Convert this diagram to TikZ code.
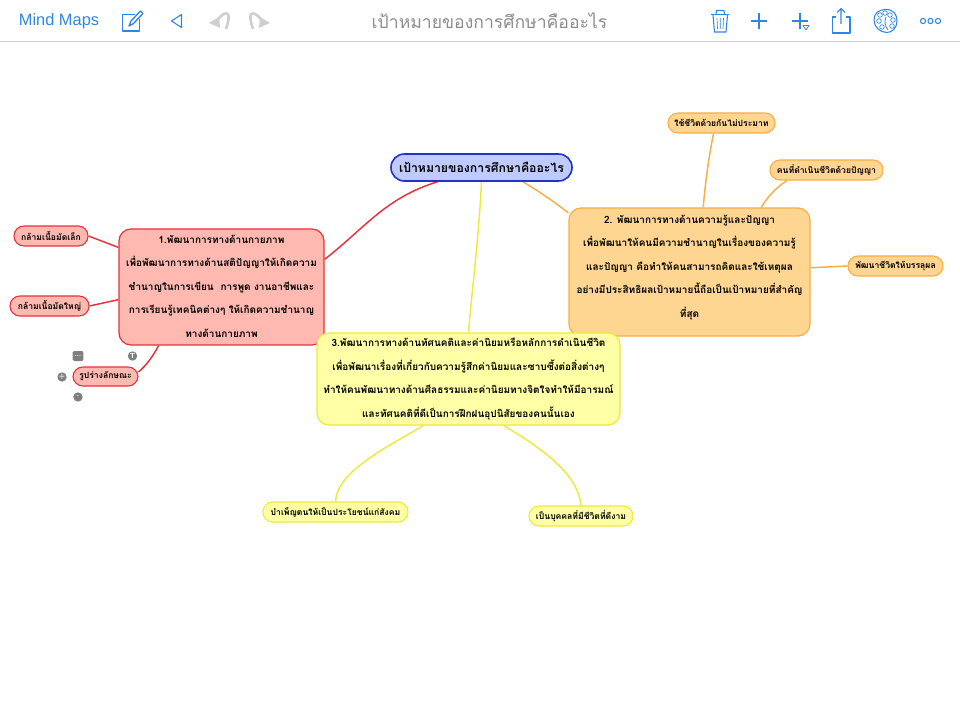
\documentclass[tikz,border=0pt]{standalone}
\usepackage{fontspec}
\usetikzlibrary{backgrounds}
\setmainfont{Liberation Sans}
\newfontfamily\thaifont[Script=Thai]{Loma}
\definecolor{uiblue}{HTML}{2F86E0}
\definecolor{uigray}{HTML}{CFCFCF}
\definecolor{titlegray}{HTML}{8C8C8C}
\definecolor{redfill}{HTML}{FFB9B0}
\definecolor{redline}{HTML}{E8303C}
\definecolor{orangefill}{HTML}{FFD592}
\definecolor{orangeline}{HTML}{F6AE45}
\definecolor{yellowfill}{HTML}{FFFFA6}
\definecolor{yellowline}{HTML}{EDE93A}
\definecolor{bluefill}{HTML}{BFCBFF}
\definecolor{blueline}{HTML}{2233CC}
\definecolor{handlegray}{HTML}{7F7F7F}
\tikzset{
  boxsize/.style 2 args={minimum width=#1*0.75pt,minimum height=#2*0.75pt},
  basebox/.style={draw,inner sep=0pt,align=center,text=black,font=\thaifont\bfseries\fontsize{7.5}{17.6pt}\selectfont},
  leafbox/.style={draw,inner sep=0pt,align=center,text=black,rounded corners=7.4pt,line width=0.8pt,font=\thaifont\bfseries\fontsize{6.45}{8pt}\selectfont},
  redbox/.style={basebox,fill=redfill,draw=redline,rounded corners=9pt,line width=0.9pt},
  orangebox/.style={basebox,fill=orangefill,draw=orangeline,rounded corners=9pt,line width=0.9pt},
  yellowbox/.style={basebox,fill=yellowfill,draw=yellowline,rounded corners=9pt,line width=0.9pt},
  redleaf/.style={leafbox,fill=redfill,draw=redline},
  orangeleaf/.style={leafbox,fill=orangefill,draw=orangeline},
  yellowleaf/.style={leafbox,fill=yellowfill,draw=yellowline},
  rootbox/.style={draw=blueline,fill=bluefill,line width=1.2pt,rounded corners=10pt,inner sep=0pt,align=center,font=\thaifont\bfseries\fontsize{9.2}{11pt}\selectfont},
  redlink/.style={draw=redline,line width=1.1pt},
  orangelink/.style={draw=orangeline,line width=1.1pt},
  yellowlink/.style={draw=yellowline,line width=1.1pt},
  uiicon/.style={draw=uiblue,line width=0.8pt,line join=round},
  handle/.style={circle,fill=handlegray,inner sep=0pt,minimum size=7pt,text=white,font=\sffamily\bfseries\fontsize{5.5}{6}\selectfont}
}
\begin{document}
\begin{tikzpicture}[x=0.75pt,y=-0.75pt]
\useasboundingbox (0,0) rectangle (960,720);
% top bar
\draw[uigray,line width=0.7pt] (0,41.5) -- (960,41.5);
\node[text=uiblue,font=\fontsize{12.3}{14}\selectfont,inner sep=0pt] (backlabel) at (59,21) {Mind Maps};
\node[text=titlegray,font=\thaifont\fontsize{13.2}{15}\selectfont,inner sep=0pt] (titlelabel) at (489.5,21) {เป้าหมายของการศึกษาคืออะไร};
% compose
\draw[uiicon] (135,14.5) -- (122.5,14.5) -- (122.5,31) -- (139.5,31) -- (139.5,19);
\draw[uiicon,line width=1pt] (129,26) -- (131,21) -- (140.5,11) -- (143,13.5) -- (133.5,23.5) -- cycle;
% back triangle
\draw[uiicon] (181.5,14.5) -- (171.5,21) -- (181.5,27.5) -- cycle;
% undo / redo
\fill[uigray] (209,23) -- (219,17) -- (220,28) -- cycle;
\draw[uigray,line width=2pt] (216,23) .. controls (220,14) and (230,9) .. (228.5,19) .. controls (228,23) and (227,26) .. (226,29);
\fill[uigray] (270,23) -- (260,17) -- (259,28) -- cycle;
\draw[uigray,line width=2pt] (263,23) .. controls (259,14) and (249,9) .. (250.5,19) .. controls (251,23) and (252,26) .. (253,29);
% trash
\draw[uiicon] (713,15) -- (714.5,32) -- (726,32) -- (727.5,15);
\draw[uiicon] (711,14.5) -- (729,14.5);
\draw[uiicon] (716,14.5) -- (716.5,10.5) -- (724,10.5) -- (724.5,14.5);
\draw[uiicon,line width=0.5pt] (717,18) -- (717.5,29) (720.2,18) -- (720.2,29) (723.5,18) -- (723,29);
% plus
\draw[uiicon,line width=1pt] (751,21) -- (767,21) (759,13) -- (759,29);
\draw[uiicon,line width=1pt] (792,21) -- (808,21) (800,13) -- (800,29);
\draw[uiicon,fill=white,line width=0.6pt] (803,25.5) -- (809,25.5) -- (806,30) -- cycle;
% share
\draw[uiicon] (836,17) -- (832.5,17) -- (832.5,33) -- (850,33) -- (850,17) -- (846,17);
\draw[uiicon] (841,24) -- (841,8.5) (837,12.5) -- (841,8.5) -- (845,12.5);
% palette
\draw[uiicon] (886,9.5) .. controls (894,9.5) and (897,15) .. (897,21) .. controls (897,28) and (892,32.5) .. (887,32.5) .. controls (880,32.5) and (874,27) .. (874,20) .. controls (874,13) and (879,9.5) .. (886,9.5);
\foreach \a/\b in {880/15,885/13,890/15,893/20,879/21,892/26,882/27}{\draw[uiicon,line width=0.5pt] (\a,\b) circle (2.3);}
\draw[uiicon,line width=0.6pt] (886,17) .. controls (884,22) and (885,26) .. (888,30);
% more
\foreach \a in {923,930.5,938}{\draw[uiicon] (\a,21) circle (2.6);}

% nodes
\node[rootbox,boxsize={181}{27}] (root) at (481.5,167.5) {เป้าหมายของการศึกษาคืออะไร};
\node[redbox,boxsize={205}{116}] (n1) at (221.5,287) {1.พัฒนาการทางด้านกายภาพ\\เพื่อพัฒนาการทางด้านสติปัญญาให้เกิดความ\\ชำนาญในการเขียน\ \ การพูด งานอาชีพและ\\การเรียนรู้เทคนิคต่างๆ ให้เกิดความชำนาญ\\ทางด้านกายภาพ\rule[-1.5pt]{0pt}{0pt}};
\node[orangebox,boxsize={241}{128}] (n2) at (689.5,272) {2. พัฒนาการทางด้านความรู้และปัญญา\\เพื่อพัฒนาให้คนมีความชำนาญในเรื่องของความรู้\\และปัญญา คือทำให้คนสามารถคิดและใช้เหตุผล\\อย่างมีประสิทธิผลเป้าหมายนี้ถือเป็นเป้าหมายที่สำคัญ\\ที่สุด\rule[-9pt]{0pt}{0pt}};
\node[yellowbox,boxsize={303}{92}] (n3) at (468.5,379) {3.พัฒนาการทางด้านทัศนคติและค่านิยมหรือหลักการดำเนินชีวิต\\เพื่อพัฒนาเรื่องที่เกี่ยวกับความรู้สึกค่านิยมและซาบซึ้งต่อสิ่งต่างๆ\\ทำให้คนพัฒนาทางด้านศีลธรรมและค่านิยมทางจิตใจทำให้มีอารมณ์\\และทัศนคติที่ดีเป็นการฝึกฝนอุปนิสัยของคนนั้นเอง};
\node[redleaf,boxsize={74}{20}] (l1) at (51,236) {กล้ามเนื้อมัดเล็ก};
\node[redleaf,boxsize={79}{20}] (l2) at (49.5,306) {กล้ามเนื้อมัดใหญ่};
\node[redleaf,boxsize={65}{19}] (l3) at (105.5,376.5) {รูปร่างลักษณะ};
\node[orangeleaf,boxsize={107}{20}] (l4) at (721.5,123) {ใช้ชีวิตด้วยกันไม่ประมาท};
\node[orangeleaf,boxsize={113}{20}] (l5) at (826.5,170) {คนที่ดำเนินชีวิตด้วยปัญญา};
\node[orangeleaf,boxsize={95}{20}] (l6) at (895.5,266) {พัฒนาชีวิตให้บรรลุผล};
\node[yellowleaf,boxsize={145}{20}] (l7) at (335.5,512) {บำเพ็ญตนให้เป็นประโยชน์แก่สังคม};
\node[yellowleaf,boxsize={104}{20}] (l8) at (581,516) {เป็นบุคคลที่มีชีวิตที่ดีงาม};
% selection handles
\node[fill=handlegray,rounded corners=1pt,inner sep=0pt,minimum width=8pt,minimum height=7.5pt,text=white,font=\sffamily\bfseries\fontsize{5}{5}\selectfont] (hmore) at (78,356) {...};
\node[handle] (htext) at (132.5,356) {T};
\node[handle] (hplus) at (62,377) {+};
\node[handle] (hminus) at (78,397) {-};
% connectors
\begin{scope}[on background layer]
\draw[redlink] (root.198) .. controls (385,198) and (365,228) .. (n1.15.3);
\draw[orangelink] (root.-19.8) .. controls (535,189) and (552,200) .. (n2.154.1);
\draw[yellowlink] (root.-90) .. controls (479,235) and (472,290) .. (n3.90);
\draw[redlink] (l1.east) -- (n1.159.2);
\draw[redlink] (l2.east) -- (n1.187.8);
\draw[redlink] (n1.223.3) .. controls (153,356) and (146,366) .. (l3.8);
\draw[orangelink] (l4.233) .. controls (709,155) and (705,185) .. (n2.78.9);
\draw[orangelink] (l5.195.3) .. controls (775,188) and (767,198) .. (n2.42.2);
\draw[orangelink] (n2.2.4) -- (l6.west);
\draw[yellowlink] (n3.226.6) .. controls (385,448) and (337,472) .. (l7.90);
\draw[yellowlink] (n3.-53.1) .. controls (545,450) and (578,475) .. (l8.90);
\end{scope}
\end{tikzpicture}
\end{document}
